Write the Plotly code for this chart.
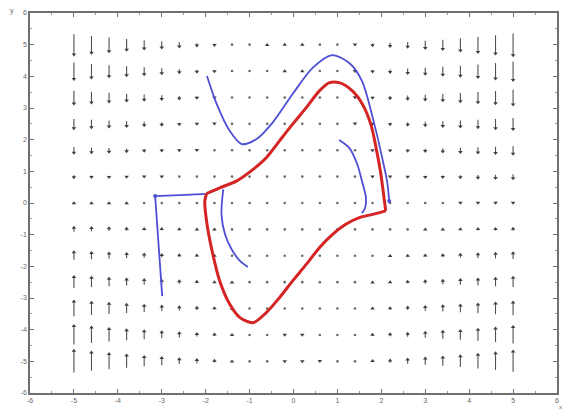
import plotly.graph_objects as go

# ---------------- data ----------------
grid_x = [-5.0, -4.6, -4.2, -3.8, -3.4, -3.0, -2.6, -2.2, -1.8, -1.4, -1.0, -0.6, -0.2,
          0.2, 0.6, 1.0, 1.4, 1.8, 2.2, 2.6, 3.0, 3.4, 3.8, 4.2, 4.6, 5.0]
grid_y = [5.0, 4.167, 3.333, 2.5, 1.667, 0.833, 0.0, -0.833, -1.667, -2.5, -3.333, -4.167, -5.0]

# vertical component of the field arrows (positive = up), one row per grid_y value
field_v = [
    [-115, -96, -79, -63, -49, -37, -26, -17, -9, -3, 1, 4, 5, 5, 3, -1, -6, -13, -21, -31, -43, -56, -71, -87, -105, -125],
    [-95, -79, -65, -52, -41, -30, -21, -14, -8, -3, 1, 3, 4, 4, 2, -1, -5, -11, -18, -27, -36, -47, -60, -74, -89, -105],
    [-75, -63, -51, -41, -32, -24, -17, -11, -6, -2, 1, 3, 3, 3, 2, -1, -5, -9, -15, -22, -30, -39, -49, -60, -72, -85],
    [-55, -46, -37, -30, -23, -17, -12, -7, -4, -1, 1, 2, 3, 2, 1, -1, -4, -7, -12, -17, -23, -30, -37, -46, -55, -65],
    [-35, -29, -24, -19, -14, -10, -7, -4, -2, 0, 1, 2, 2, 1, 0, -1, -3, -6, -9, -12, -16, -21, -26, -32, -38, -45],
    [-15, -12, -10, -7, -5, -4, -2, -1, 0, 1, 1, 1, 1, 1, 0, -1, -2, -4, -5, -7, -10, -12, -15, -18, -21, -25],
    [5, 5, 4, 4, 3, 3, 3, 2, 2, 1, 1, 1, 0, 0, -1, -1, -1, -2, -2, -3, -3, -3, -4, -4, -5, -5],
    [25, 21, 18, 15, 12, 10, 7, 5, 4, 2, 1, 0, -1, -1, -1, -1, -1, 0, 1, 2, 4, 5, 7, 10, 12, 15],
    [45, 38, 32, 26, 21, 16, 12, 9, 6, 3, 1, 0, -1, -2, -2, -1, 0, 2, 4, 7, 10, 14, 19, 24, 29, 35],
    [65, 55, 46, 37, 30, 23, 17, 12, 7, 4, 1, -1, -2, -3, -2, -1, 1, 4, 7, 12, 17, 23, 30, 37, 46, 55],
    [85, 72, 60, 49, 39, 30, 22, 15, 9, 5, 1, -2, -3, -3, -3, -1, 2, 6, 11, 17, 24, 32, 41, 51, 63, 75],
    [105, 89, 74, 60, 47, 36, 27, 18, 11, 5, 1, -2, -4, -4, -3, -1, 3, 8, 14, 21, 30, 41, 52, 65, 79, 95],
    [125, 105, 87, 71, 56, 43, 31, 21, 13, 6, 1, -3, -5, -5, -4, -1, 3, 9, 17, 26, 37, 49, 63, 79, 96, 115],
]

# closed orbit (red): upper arc (left corner -> right corner) and lower arc (right corner -> left corner)
red_upper_x = [-1.98, -1.68, -1.30, -0.92, -0.62, -0.32, -0.02, 0.29, 0.59, 0.82, 1.04, 1.34, 1.57,
               1.76, 1.88, 1.99, 2.06, 2.10]
red_upper_y = [0.30, 0.48, 0.69, 1.06, 1.43, 1.96, 2.49, 3.01, 3.54, 3.80, 3.80, 3.54, 3.12,
               2.49, 1.75, 0.91, 0.17, -0.25]
red_lower_x = [2.10, 1.80, 1.50, 1.19, 0.89, 0.59, 0.29, -0.02, -0.32,
               -0.62, -0.92, -1.22, -1.45, -1.68, -1.87, -1.98, -2.02, -1.98]
red_lower_y = [-0.25, -0.36, -0.46, -0.67, -0.99, -1.41, -1.94, -2.46, -2.99,
               -3.46, -3.78, -3.62, -3.20, -2.46, -1.41, -0.57, 0.06, 0.30]

# trajectories (blue)
blue_a_x = [-1.97, -1.75, -1.45, -1.18, -0.84, -0.48, -0.02, 0.43, 0.88, 1.27, 1.56, 1.88, 2.02, 2.13, 2.18]
blue_a_y = [4.01, 3.13, 2.27, 1.86, 2.02, 2.53, 3.44, 4.26, 4.67, 4.42, 3.85, 2.27, 1.42, 0.69, 0.06]

blue_b_x = [1.04, 1.27, 1.45, 1.56, 1.65, 1.63, 1.56]
blue_b_y = [1.99, 1.74, 1.23, 0.69, 0.16, -0.16, -0.32]

blue_c_x = [-2.99, -3.07, -3.15, -2.59, -1.98, -1.70]
blue_c_y = [-2.94, -1.41, 0.22, 0.25, 0.29, 0.45]

blue_d_x = [-1.60, -1.64, -1.56, -1.41, -1.22, -1.04]
blue_d_y = [0.43, -0.36, -0.99, -1.46, -1.83, -2.02]

blue_dots_x = [2.18, -3.15]
blue_dots_y = [0.06, 0.22]

tick_vals = [-6, -5, -4, -3, -2, -1, 0, 1, 2, 3, 4, 5, 6]
tick_text = ["-6", "-5", "-4", "-3", "-2", "-1", "0", "1", "2", "3", "4", "5", "6"]

# ---------------- figure ----------------
W, H = 568, 416
ML, MR, MT, MB = 30, 9, 13, 23
XR = [-6, 6]
YR = [-6, 6]
plot_h = H - MT - MB
px_per_unit = 0.18                       # arrow length (px) per unit of field
dy_per_px = (YR[1] - YR[0]) / plot_h
scale = px_per_unit * dy_per_px

sx, sy = [], []
hx, hy, hsym = [], [], []
dx, dy = [], []
for j, yv in enumerate(grid_y):
    for i, xv in enumerate(grid_x):
        v = field_v[j][i]
        half = v * scale / 2.0
        if abs(v) < 4:
            dx.append(xv)
            dy.append(yv)
            continue
        sx += [xv, xv, None]
        sy += [yv - half, yv + half, None]
        hx.append(xv)
        hy.append(yv + half - (0.6 * dy_per_px if v > 0 else -0.6 * dy_per_px))
        hsym.append("triangle-up" if v > 0 else "triangle-down")

fig = go.Figure()
fig.add_trace(go.Scatter(x=sx, y=sy, mode="lines",
                         line=dict(color="#505050", width=1.1),
                         hoverinfo="skip", showlegend=False))
fig.add_trace(go.Scatter(x=hx, y=hy, mode="markers",
                         marker=dict(symbol=hsym, size=4, color="#404040", line=dict(width=0)),
                         hoverinfo="skip", showlegend=False))
fig.add_trace(go.Scatter(x=dx, y=dy, mode="markers",
                         marker=dict(symbol="circle", size=2.6, color="#6a6a6a", line=dict(width=0)),
                         hoverinfo="skip", showlegend=False))

blue_line = dict(color="#4f4fd6", width=1.8)
for bx, by, shp in [(blue_a_x, blue_a_y, "spline"), (blue_b_x, blue_b_y, "spline"),
                    (blue_c_x, blue_c_y, "linear"), (blue_d_x, blue_d_y, "spline")]:
    fig.add_trace(go.Scatter(x=bx, y=by, mode="lines",
                             line=dict(blue_line, shape=shp, smoothing=0.8),
                             hoverinfo="skip", showlegend=False))
fig.add_trace(go.Scatter(x=blue_dots_x, y=blue_dots_y, mode="markers",
                         marker=dict(color="#4f4fd6", size=4),
                         hoverinfo="skip", showlegend=False))

for rx, ry in [(red_upper_x, red_upper_y), (red_lower_x, red_lower_y)]:
    fig.add_trace(go.Scatter(x=rx, y=ry, mode="lines",
                             line=dict(color="#d42424", width=3, shape="spline", smoothing=0.8),
                             hoverinfo="skip", showlegend=False))

axis_common = dict(
    showgrid=False, zeroline=False,
    showline=True, linecolor="#707070", linewidth=1.5,
    mirror="allticks", ticks="inside", ticklen=4, tickwidth=1, tickcolor="#707070",
    tickvals=tick_vals, ticktext=tick_text,
    tickfont=dict(family="Liberation Sans, Arial", size=7, color="#666666"),
    minor=dict(dtick=0.5, ticks="inside", ticklen=2, tickcolor="#9a9a9a"),
)
fig.update_xaxes(range=XR, **axis_common)
fig.update_yaxes(range=YR, **axis_common)

fig.add_annotation(x=0, y=1, xref="paper", yref="paper", xshift=-22, yshift=8,
                   text="y", showarrow=False,
                   font=dict(family="Liberation Sans, Arial", size=7, color="#666666"))
fig.add_annotation(x=1, y=0, xref="paper", yref="paper", xshift=7, yshift=-19,
                   text="x", showarrow=False,
                   font=dict(family="Liberation Sans, Arial", size=6, color="#666666"))

fig.update_layout(
    width=W, height=H,
    margin=dict(l=ML, r=MR, t=MT, b=MB, pad=0),
    paper_bgcolor="white", plot_bgcolor="white",
)

fig.write_html("out.html")
